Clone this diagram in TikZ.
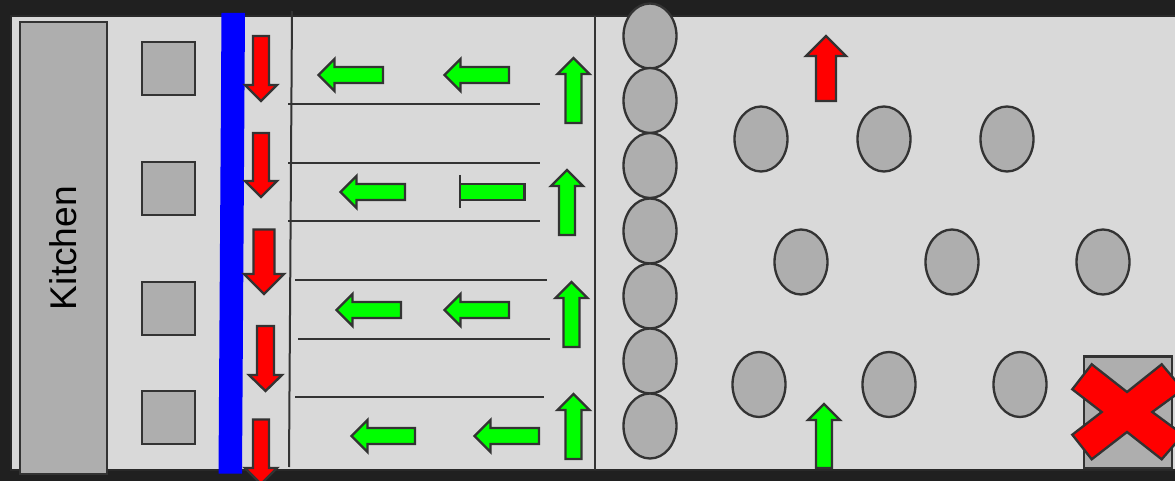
\documentclass[tikz,border=0pt]{standalone}
\usepackage{fontspec}
\setmainfont{Liberation Sans}
\definecolor{darkbg}{HTML}{202020}
\definecolor{panel}{HTML}{D9D9D9}
\definecolor{shapegray}{HTML}{AEAEAE}
\definecolor{edge}{HTML}{333333}
\definecolor{arrowgreen}{HTML}{00FF00}
\tikzset{
  outline/.style={draw=edge,line width=1.75pt,line join=miter},
  thing/.style={outline,fill=shapegray},
  rulerline/.style={draw=edge,line width=1.5pt},
  goarrow/.style={outline,fill=arrowgreen},
  stoparrow/.style={outline,fill=red}
}
% tip x, tip y, tail end, half shaft, half head, head length (signed), style
\newcommand\blockleft[7]{\draw[#7] (#1,#2) -- ({#1+(#6)},{#2-(#5)}) -- ({#1+(#6)},{#2-(#4)}) -- (#3,{#2-(#4)}) -- (#3,{#2+(#4)}) -- ({#1+(#6)},{#2+(#4)}) -- ({#1+(#6)},{#2+(#5)}) -- cycle;}
\newcommand\blockvert[7]{\draw[#7] (#1,#2) -- ({#1-(#5)},{#2+(#6)}) -- ({#1-(#4)},{#2+(#6)}) -- ({#1-(#4)},#3) -- ({#1+(#4)},#3) -- ({#1+(#4)},{#2+(#6)}) -- ({#1+(#5)},{#2+(#6)}) -- cycle;}
\begin{document}
\begin{tikzpicture}[x=0.75pt,y=-0.75pt]
\useasboundingbox (0,0) rectangle (1175,481);
\fill[darkbg] (0,0) rectangle (1175,481);
\draw[fill=panel,draw=edge!80!black,line width=1.2pt] (11,16) rectangle (1180,470);
% kitchen
\draw[thing] (20,22) rectangle (107,474);
\node[rotate=90,font=\fontsize{27.9pt}{30pt}\selectfont,text=black,inner sep=0pt] (kitchen) at (63,248) {Kitchen};
% counters
\draw[thing] (142,42) rectangle (195,95);
\draw[thing] (142,162) rectangle (195,215);
\draw[thing] (142,282) rectangle (195,335);
\draw[thing] (142,391) rectangle (195,444);
% blue barrier
\fill[blue] (221.5,13) -- (245,13) -- (242,473.5) -- (218.5,473.5) -- cycle;
% dividers
\draw[rulerline] (292,11) -- (289,467);
\draw[rulerline] (594.5,16) -- (594.5,470);
\draw[rulerline] (288,104) -- (540,104);
\draw[rulerline] (288,163) -- (540,163);
\draw[rulerline] (288,221.5) -- (540,221.5);
\draw[rulerline] (295,280) -- (547,280);
\draw[rulerline] (298,338.5) -- (550,338.5);
\draw[rulerline] (295,397) -- (544,397);
% red down arrows
\blockvert{261}{101}{36}{8}{16}{-16}{stoparrow}
\blockvert{261}{197}{133}{8}{16}{-16}{stoparrow}
\blockvert{264}{294}{229.5}{10.5}{20}{-20}{stoparrow}
\blockvert{265.5}{391}{326}{8.5}{16.5}{-16}{stoparrow}
\blockvert{261}{484}{419.5}{8}{16}{-16}{stoparrow}
% green left arrows
\blockleft{318.5}{75}{383}{8}{16}{16}{goarrow}
\blockleft{444.5}{75}{509}{8}{16}{16}{goarrow}
\blockleft{340.5}{192}{405}{8}{16}{16}{goarrow}
\blockleft{336.5}{310}{401}{8}{16}{16}{goarrow}
\blockleft{444.5}{310}{509}{8}{16}{16}{goarrow}
\blockleft{351.5}{436}{415}{8}{16}{16}{goarrow}
\blockleft{474.5}{436}{539}{8}{16}{16}{goarrow}
% broken arrow
\draw[goarrow] (460,184) rectangle (524.5,200);
\draw[outline] (460,175) -- (460,208);
% green up arrows
\blockvert{573.5}{58}{123}{8}{16}{16}{goarrow}
\blockvert{567}{170}{235}{8}{16}{16}{goarrow}
\blockvert{571.5}{282}{347}{8}{16}{16}{goarrow}
\blockvert{573.5}{394}{459}{8}{16}{16}{goarrow}
\blockvert{824}{404}{468}{8}{16}{16}{goarrow}
\blockvert{826}{36}{101}{10}{20}{20}{stoparrow}
% queue of circles
\foreach \yy in {36,100.5,165.5,231,296,361,426}
  \draw[thing] (650,\yy) ellipse [x radius=26.5,y radius=32.5];
% tables
\foreach \xx/\yy in {761/139,884/139,1007/139,801/262,952/262,1103/262,759/384.5,889/384.5,1020/384.5}
  \draw[thing] (\xx,\yy) ellipse [x radius=26.5,y radius=32.5];
% closed table
\draw[thing] (1084,356.5) rectangle (1172,468);
\draw[stoparrow] (1091.7,364.3) -- (1127,392) -- (1161.7,364.3) -- (1183,389.5) -- (1152.3,412) -- (1183,434.7) -- (1161.7,459.3) -- (1127,432) -- (1091.7,459.3) -- (1072.3,434.7) -- (1101.7,412) -- (1072.3,389.3) -- cycle;
\end{tikzpicture}
\end{document}
